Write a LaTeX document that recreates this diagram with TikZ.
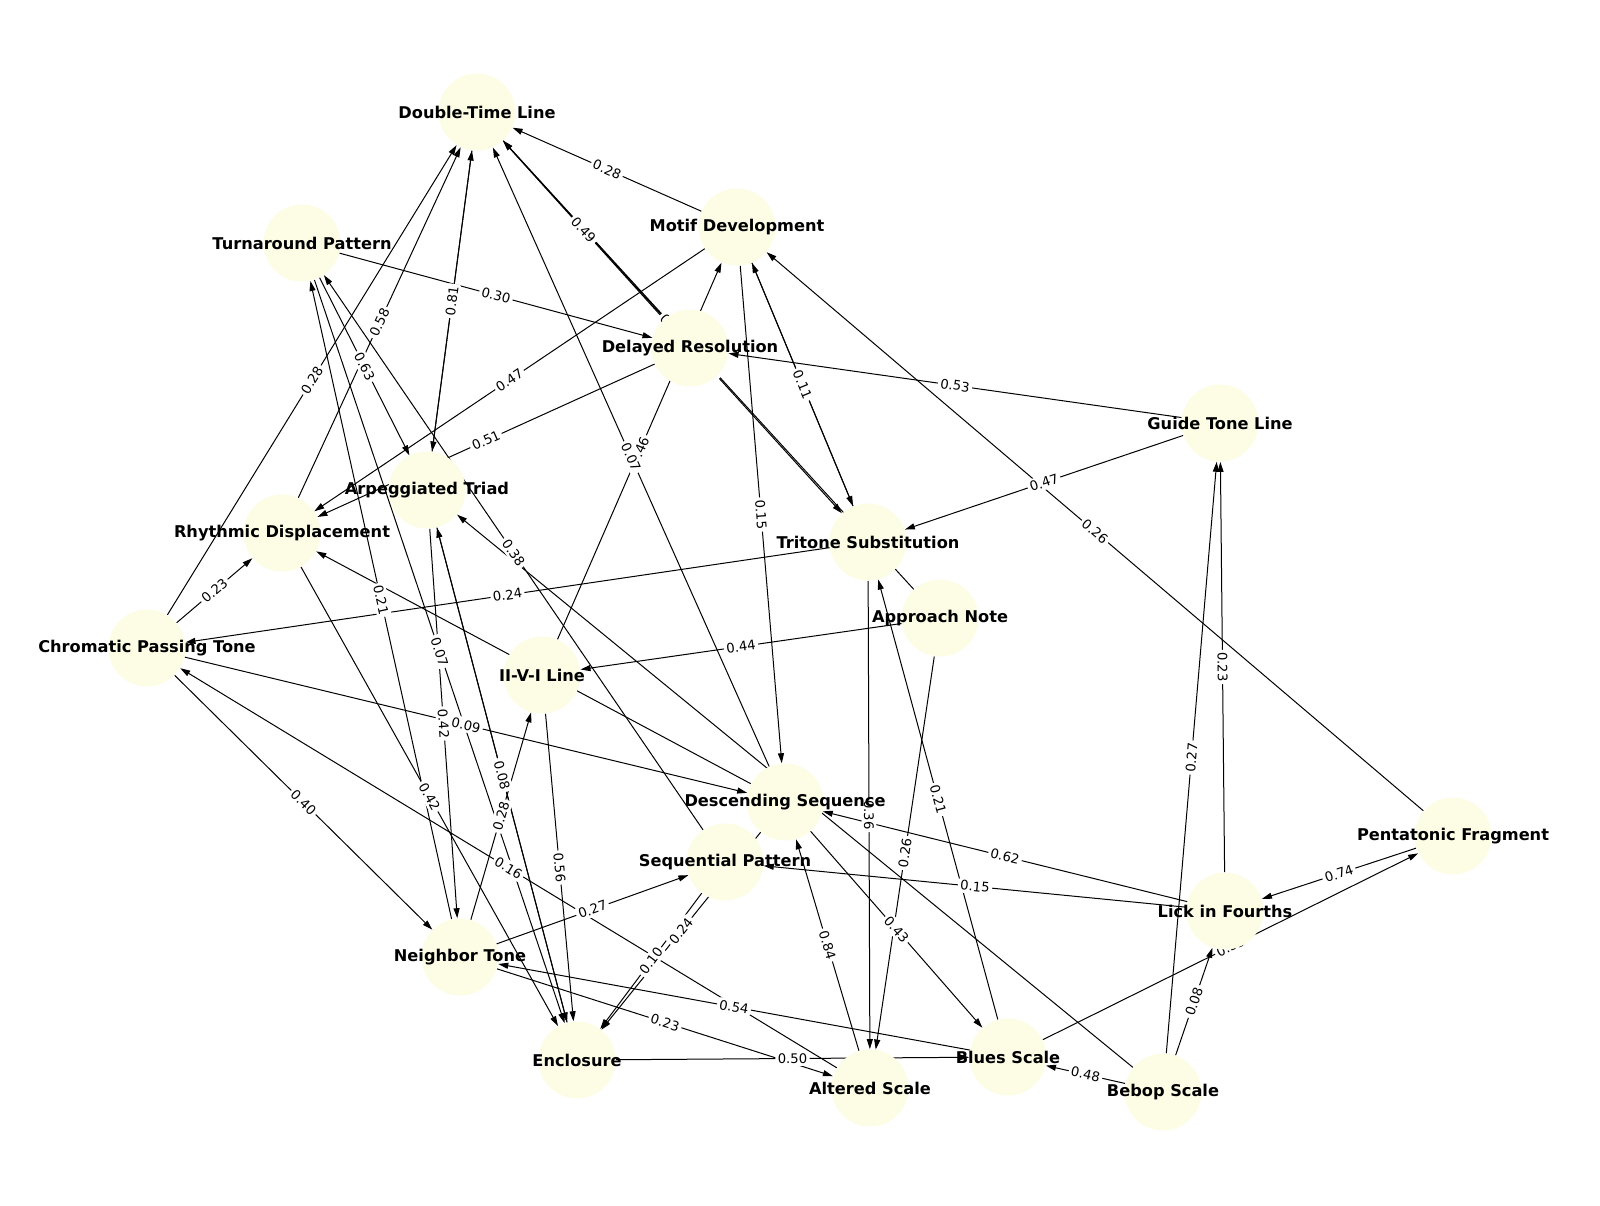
\documentclass[tikz,border=0pt]{standalone}
\usepackage{fontspec}
\setmainfont{DejaVu Sans}
\usetikzlibrary{arrows.meta}
\pgfdeclarelayer{bglayer}
\pgfdeclarelayer{edgelayer}
\pgfdeclarelayer{elabellayer}
\pgfdeclarelayer{frontlayer}
\pgfsetlayers{bglayer,edgelayer,elabellayer,main,frontlayer}
\definecolor{nodefill}{RGB}{253,253,230}
\begin{document}
\begin{tikzpicture}[x=0.5pt,y=-0.5pt,
  nd/.style={circle, fill=nodefill, draw=none, minimum size=38.5pt, inner sep=0pt},
  ntext/.style={font=\fontsize{8.1}{9.7}\selectfont\bfseries, inner sep=0pt},
  e/.style={draw=black, line width=0.5pt, -{Triangle[length=5pt,width=3pt]}},
  el/.style={midway, sloped, fill=white, rounded corners=1.5pt, inner sep=1.2pt, font=\fontsize{6.6}{7.6}\selectfont}]
\begin{pgfonlayer}{bglayer}
\fill[white] (0,0) rectangle (1600,1205);
\end{pgfonlayer}
\useasboundingbox (0,0) rectangle (1600,1205);

\node[nd] (DT) at (477,112) {};
\node[nd] (MD) at (737,227) {};
\node[nd] (TP) at (302,243) {};
\node[nd] (DR) at (690,348) {};
\node[nd] (GT) at (1220,423) {};
\node[nd] (AT) at (427,490) {};
\node[nd] (RD) at (282,533) {};
\node[nd] (TS) at (868,542) {};
\node[nd] (AN) at (940,618) {};
\node[nd] (CP) at (147,648) {};
\node[nd] (II) at (542,675) {};
\node[nd] (DS) at (785,802) {};
\node[nd] (PF) at (1453,836) {};
\node[nd] (SP) at (725,862) {};
\node[nd] (LF) at (1225,911) {};
\node[nd] (NT) at (460,957) {};
\node[nd] (EN) at (577,1060) {};
\node[nd] (BS) at (1008,1057) {};
\node[nd] (AS) at (870,1088) {};
\node[nd] (BB) at (1163,1092) {};

\begin{pgfonlayer}{frontlayer}
\foreach \n/\t in {DT/Double-Time Line, MD/Motif Development, TP/Turnaround Pattern,
  DR/Delayed Resolution, GT/Guide Tone Line, AT/Arpeggiated Triad,
  RD/Rhythmic Displacement, TS/Tritone Substitution, AN/Approach Note,
  CP/Chromatic Passing Tone, II/II-V-I Line, DS/Descending Sequence,
  PF/Pentatonic Fragment, SP/Sequential Pattern, LF/Lick in Fourths,
  NT/Neighbor Tone, EN/Enclosure, BS/Blues Scale, AS/Altered Scale, BB/Bebop Scale}
  \node[ntext] at (\n) {\t};
\end{pgfonlayer}

\def\edgelist{MD/DT/0.28, DR/DT/0.49, TP/DR/0.30, GT/DR/0.53, GT/TS/0.47,
  PF/MD/0.26, MD/RD/0.47, DR/RD/0.51, MD/DS/0.15, MD/TS/0.11, TS/MD/0.11,
  DT/AT/0.81, AT/DT/0.81, RD/DT/0.58, CP/DT/0.28, TP/AT/0.63, II/MD/0.46,
  DS/DT/0.07, DT/TS/0.19, AN/DT/0.33, TS/CP/0.24, CP/RD/0.23, DS/RD/0.31,
  AN/II/0.44, CP/DS/0.09, CP/NT/0.40, SP/TP/0.38, NT/TP/0.21, AT/NT/0.42,
  RD/EN/0.42, TP/EN/0.07, AT/EN/0.08, EN/AT/0.08, NT/II/0.28, II/EN/0.56,
  BS/TS/0.21, TS/AS/0.36, AN/AS/0.26, LF/DS/0.62, LF/SP/0.15, DS/BS/0.43,
  BB/AT/0.12, AS/DS/0.84, SP/EN/0.10, DS/EN/0.24, NT/SP/0.27, AS/CP/0.16,
  NT/AS/0.23, BS/NT/0.54, EN/BS/0.50, BB/BS/0.48, BB/GT/0.27, LF/GT/0.23,
  BB/LF/0.08, BS/PF/0.35, PF/LF/0.74}

\begin{pgfonlayer}{edgelayer}
\foreach \a/\b/\l in \edgelist
  \draw[e] (\a) -- (\b);
\end{pgfonlayer}
\begin{pgfonlayer}{elabellayer}
\foreach \a/\b/\l in \edgelist
  \path (\a) -- (\b) node[el] {\l};
\end{pgfonlayer}
\end{tikzpicture}
\end{document}
